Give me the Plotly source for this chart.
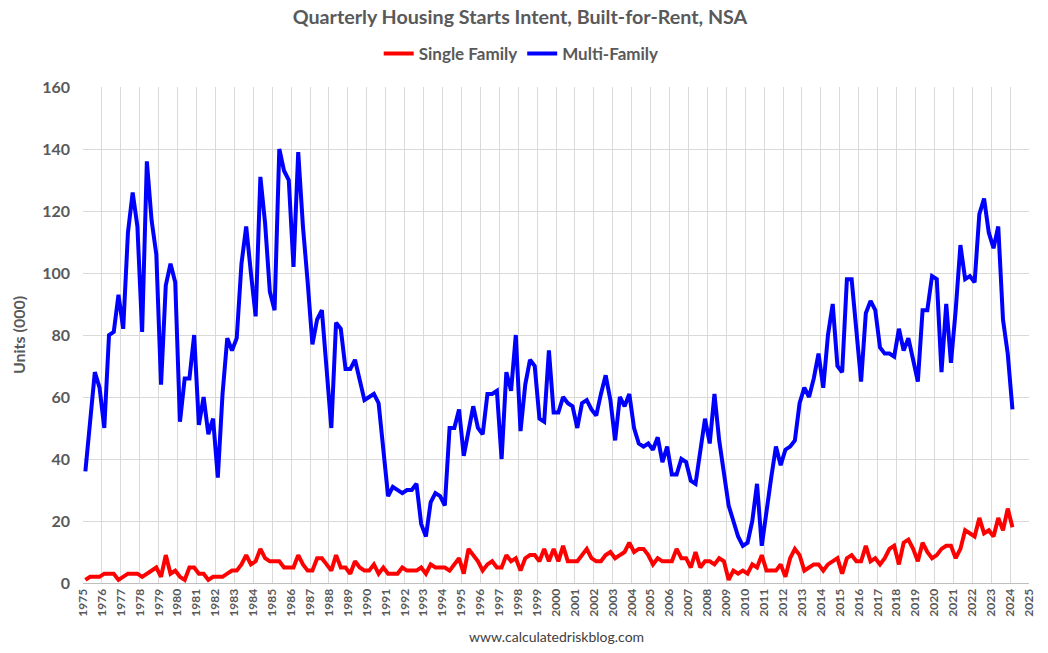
import plotly.graph_objects as go

start_year = 1975
years_axis = list(range(1975, 2026))

single_family = [
    1, 2, 2, 2, 3, 3, 3, 1, 2, 3,
    3, 3, 2, 3, 4, 5, 2, 9, 3, 4,
    2, 1, 5, 5, 3, 3, 1, 2, 2, 2,
    3, 4, 4, 6, 9, 6, 7, 11, 8, 7,
    7, 7, 5, 5, 5, 9, 6, 4, 4, 8,
    8, 6, 4, 9, 5, 5, 3, 7, 5, 4,
    4, 6, 3, 5, 3, 3, 3, 5, 4, 4,
    4, 5, 3, 6, 5, 5, 5, 4, 6, 8,
    3, 11, 9, 7, 4, 6, 7, 5, 5, 9,
    7, 8, 4, 8, 9, 9, 7, 11, 7, 11,
    7, 12, 7, 7, 7, 9, 11, 8, 7, 7,
    9, 10, 8, 9, 10, 13, 10, 11, 11, 9,
    6, 8, 7, 7, 7, 11, 8, 8, 5, 10,
    5, 7, 7, 6, 8, 7, 1, 4, 3, 4,
    3, 6, 5, 9, 4, 4, 4, 6, 2, 8,
    11, 9, 4, 5, 6, 6, 4, 6, 7, 8,
    3, 8, 9, 7, 7, 12, 7, 8, 6, 8,
    11, 12, 6, 13, 14, 11, 7, 13, 10, 8,
    9, 11, 12, 12, 8, 11, 17, 16, 15, 21,
    16, 17, 15, 21, 17, 24, 18,
]

multi_family = [
    36, 52, 68, 63, 50, 80, 81, 93, 82, 113,
    126, 115, 81, 136, 117, 106, 64, 96, 103, 97,
    52, 66, 66, 80, 51, 60, 48, 53, 34, 61,
    79, 75, 79, 103, 115, 100, 86, 131, 116, 94,
    88, 140, 133, 130, 102, 139, 115, 97, 77, 85,
    88, 69, 50, 84, 82, 69, 69, 72, 66, 59,
    60, 61, 58, 44, 28, 31, 30, 29, 30, 30,
    32, 19, 15, 26, 29, 28, 25, 50, 50, 56,
    41, 49, 57, 50, 48, 61, 61, 62, 40, 68,
    62, 80, 49, 64, 72, 70, 53, 52, 75, 55,
    55, 60, 58, 57, 50, 58, 59, 56, 54, 61,
    67, 59, 46, 60, 57, 61, 50, 45, 44, 45,
    43, 47, 39, 44, 35, 35, 40, 39, 33, 32,
    43, 53, 45, 61, 46, 35, 25, 20, 15, 12,
    13, 20, 32, 12, 24, 34, 44, 38, 43, 44,
    46, 58, 63, 60, 66, 74, 63, 80, 90, 70,
    68, 98, 98, 81, 65, 87, 91, 88, 76, 74,
    74, 73, 82, 75, 79, 72, 65, 88, 88, 99,
    98, 68, 90, 71, 88, 109, 98, 99, 97, 119,
    124, 113, 108, 115, 85, 74, 56,
]

# quarter positions: centre of each quarter on a year axis
x_q = [start_year + (i + 0.5) / 4 for i in range(len(multi_family))]

font_family = "Lato, 'Open Sans', sans-serif"
text_gray = "#595959"

fig = go.Figure()
fig.add_trace(go.Scatter(
    x=x_q, y=single_family, mode="lines", name="<b>Single Family</b>",
    line=dict(color="#FF0000", width=4),
))
fig.add_trace(go.Scatter(
    x=x_q, y=multi_family, mode="lines", name="<b>Multi-Family</b>",
    line=dict(color="#0000FF", width=4),
))

fig.update_layout(
    width=1048, height=653,
    margin=dict(l=83, r=13, t=87, b=70),
    paper_bgcolor="white", plot_bgcolor="white",
    font=dict(family=font_family, color=text_gray),
    title=dict(
        text="<b>Quarterly Housing Starts Intent, Built-for-Rent, NSA</b>",
        x=520 / 1048, xanchor="center",
        y=1 - 17 / 653, yanchor="middle",
        font=dict(size=19.7, color=text_gray, family=font_family),
    ),
    legend=dict(
        orientation="h", x=(524 - 83) / 952, xanchor="center", y=1 + 33 / 496, yanchor="middle",
        font=dict(size=17, color=text_gray, family=font_family),
        itemwidth=30, tracegroupgap=0,
    ),
    showlegend=True,
)

fig.update_xaxes(
    range=[1975, 2025],
    tickmode="array", tickvals=years_axis, ticktext=[f"<b>{y}</b>" for y in years_axis],
    tickangle=-90, tickfont=dict(size=12, color=text_gray),
    showgrid=True, gridcolor="#D9D9D9", gridwidth=1,
    showline=True, linecolor="#BFBFBF", linewidth=1,
    ticks="", zeroline=False, fixedrange=True,
)
fig.update_yaxes(
    range=[0, 160], tickmode="linear", tick0=0, dtick=20,
    tickfont=dict(size=16, color=text_gray),
    tickprefix="<b>", ticksuffix="</b>",
    showgrid=True, gridcolor="#D9D9D9", gridwidth=1,
    zeroline=False, showline=False, ticks="", ticklabelstandoff=12,
    title=dict(text="<b>Units (000)</b>", font=dict(size=16, color=text_gray), standoff=12),
)

fig.add_annotation(
    text="www.calculatedriskblog.com", xref="paper", yref="paper",
    x=(560 - 83) / 952, y=-(636 - 583) / 496, xanchor="center", yanchor="middle",
    showarrow=False, font=dict(size=14, color="#404040", family=font_family),
)

fig.write_html("out.html")
